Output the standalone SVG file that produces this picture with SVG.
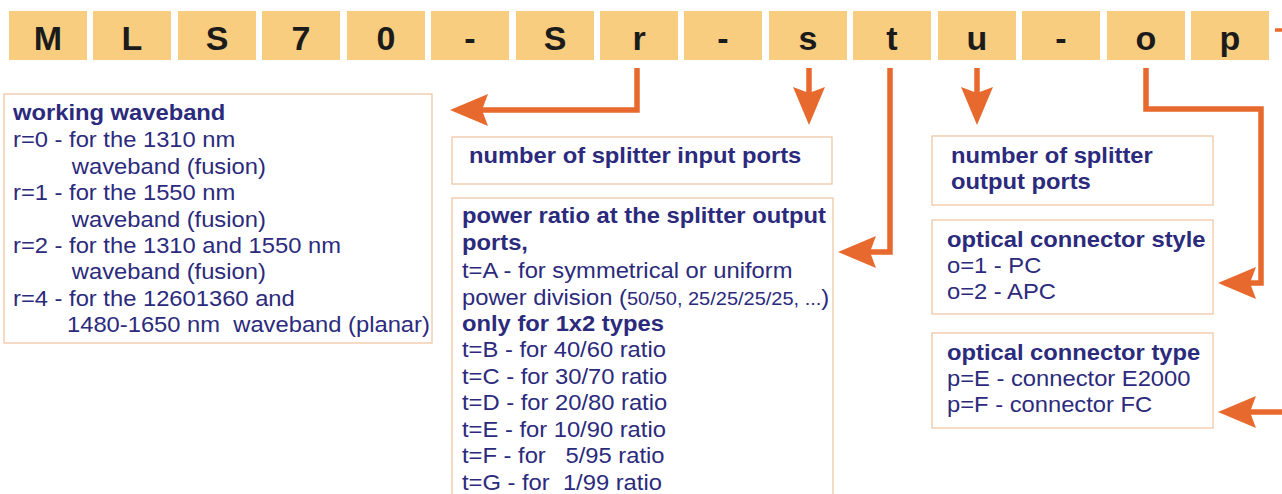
<svg xmlns="http://www.w3.org/2000/svg" width="1282" height="494" viewBox="0 0 1282 494">
<style>
.key{fill:#F8CD80}
.kt{font-family:"Liberation Sans",Arial,sans-serif;font-weight:bold;font-size:34px;fill:#1b1b1b;text-anchor:middle}
.box{fill:#fff;stroke:#F1C6A4;stroke-width:1.3}
.t{font-family:"Liberation Sans",Arial,sans-serif;font-size:22px;fill:#2b2a7c;white-space:pre}
.b{font-weight:bold}
.conn{fill:none;stroke:#E8692D;stroke-width:5.5;stroke-linejoin:miter}
</style>
<defs>
<marker id="ah" markerUnits="userSpaceOnUse" viewBox="0 0 38 32" refX="18" refY="16" markerWidth="38" markerHeight="32" orient="auto">
<path d="M0,0 L38,16 L0,32 L6,16 Z" fill="#E8692D"/>
</marker>
</defs>
<rect width="1282" height="494" fill="#fff"/>
<g id="code">
<g id="k0"><rect class="key" x="9" y="11" width="78" height="49"/><text class="kt" x="48" y="50">M</text></g>
<g id="k1"><rect class="key" x="93" y="11" width="78" height="49"/><text class="kt" x="132" y="50">L</text></g>
<g id="k2"><rect class="key" x="178" y="11" width="78" height="49"/><text class="kt" x="217" y="50">S</text></g>
<g id="k3"><rect class="key" x="262" y="11" width="78" height="49"/><text class="kt" x="301" y="50">7</text></g>
<g id="k4"><rect class="key" x="347" y="11" width="78" height="49"/><text class="kt" x="386" y="50">0</text></g>
<g id="k5"><rect class="key" x="431" y="11" width="78" height="49"/><text class="kt" x="470" y="50">-</text></g>
<g id="k6"><rect class="key" x="516" y="11" width="78" height="49"/><text class="kt" x="555" y="50">S</text></g>
<g id="k7"><rect class="key" x="600" y="11" width="78" height="49"/><text class="kt" x="639" y="50">r</text></g>
<g id="k8"><rect class="key" x="684" y="11" width="78" height="49"/><text class="kt" x="723" y="50">-</text></g>
<g id="k9"><rect class="key" x="769" y="11" width="78" height="49"/><text class="kt" x="808" y="50">s</text></g>
<g id="k10"><rect class="key" x="853" y="11" width="78" height="49"/><text class="kt" x="892" y="50">t</text></g>
<g id="k11"><rect class="key" x="938" y="11" width="78" height="49"/><text class="kt" x="977" y="50">u</text></g>
<g id="k12"><rect class="key" x="1022" y="11" width="78" height="49"/><text class="kt" x="1061" y="50">-</text></g>
<g id="k13"><rect class="key" x="1107" y="11" width="78" height="49"/><text class="kt" x="1146" y="50">o</text></g>
<g id="k14"><rect class="key" x="1191" y="11" width="78" height="49"/><text class="kt" x="1230" y="50">p</text></g>
</g>
<g id="connectors">
<path class="conn" d="M637,68 V110 H470" marker-end="url(#ah)"/>
<path class="conn" d="M809,68 V105" marker-end="url(#ah)"/>
<path class="conn" d="M890,68 V252 H858" marker-end="url(#ah)"/>
<path class="conn" d="M977,68 V105" marker-end="url(#ah)"/>
<path class="conn" d="M1146,68 V109 H1261 V283 H1238" marker-end="url(#ah)"/>
<path class="conn" d="M1284,412 H1238" marker-end="url(#ah)"/>
<path class="conn" d="M1275,30 H1284" style="stroke-width:3.5"/>
</g>
<g id="waveband">
<rect class="box" x="4" y="94" width="428" height="249"/>
<g transform="translate(13,0) scale(1.08,1)">
<text class="t b" x="0" y="120">working waveband</text>
<text class="t" x="0" y="147">r=0 - for the 1310 nm</text>
<text class="t" x="54.5" y="174">waveband (fusion)</text>
<text class="t" x="0" y="200">r=1 - for the 1550 nm</text>
<text class="t" x="54.5" y="227">waveband (fusion)</text>
<text class="t" x="0" y="253">r=2 - for the 1310 and 1550 nm</text>
<text class="t" x="54.5" y="279">waveband (fusion)</text>
<text class="t" x="0" y="306">r=4 - for the 12601360 and</text>
<text class="t" x="50" y="332">1480-1650 nm  waveband (planar)</text>
</g>
</g>
<g id="input-ports">
<rect class="box" x="452" y="137" width="380" height="47"/>
<g transform="translate(469,0) scale(1.08,1)">
<text class="t b" x="0" y="163">number of splitter input ports</text>
</g>
</g>
<g id="power-ratio">
<rect class="box" x="452" y="198" width="381" height="302"/>
<g transform="translate(462,0) scale(1.08,1)">
<text class="t b" x="0" y="223">power ratio at the splitter output</text>
<text class="t b" x="0" y="250">ports,</text>
<text class="t" x="0" y="278">t=A - for symmetrical or uniform</text>
<text class="t" x="0" y="305">power division (<tspan style="font-size:18.5px">50/50, 25/25/25/25, ...</tspan>)</text>
<text class="t b" x="0" y="331">only for 1x2 types</text>
<text class="t" x="0" y="357">t=B - for 40/60 ratio</text>
<text class="t" x="0" y="384">t=C - for 30/70 ratio</text>
<text class="t" x="0" y="410">t=D - for 20/80 ratio</text>
<text class="t" x="0" y="437">t=E - for 10/90 ratio</text>
<text class="t" x="0" y="463">t=F - for   5/95 ratio</text>
<text class="t" x="0" y="490">t=G - for  1/99 ratio</text>
</g>
</g>
<g id="output-ports">
<rect class="box" x="932" y="136" width="281" height="69"/>
<g transform="translate(951,0) scale(1.08,1)">
<text class="t b" x="0" y="163">number of splitter</text>
<text class="t b" x="0" y="189">output ports</text>
</g>
</g>
<g id="connector-style">
<rect class="box" x="932" y="220" width="281" height="94"/>
<g transform="translate(947,0) scale(1.08,1)">
<text class="t b" x="0" y="247">optical connector style</text>
<text class="t" x="0" y="273">o=1 - PC</text>
<text class="t" x="0" y="299">o=2 - APC</text>
</g>
</g>
<g id="connector-type">
<rect class="box" x="932" y="333" width="281" height="95"/>
<g transform="translate(947,0) scale(1.08,1)">
<text class="t b" x="0" y="360">optical connector type</text>
<text class="t" x="0" y="386">p=E - connector E2000</text>
<text class="t" x="0" y="412">p=F - connector FC</text>
</g>
</g>
</svg>
